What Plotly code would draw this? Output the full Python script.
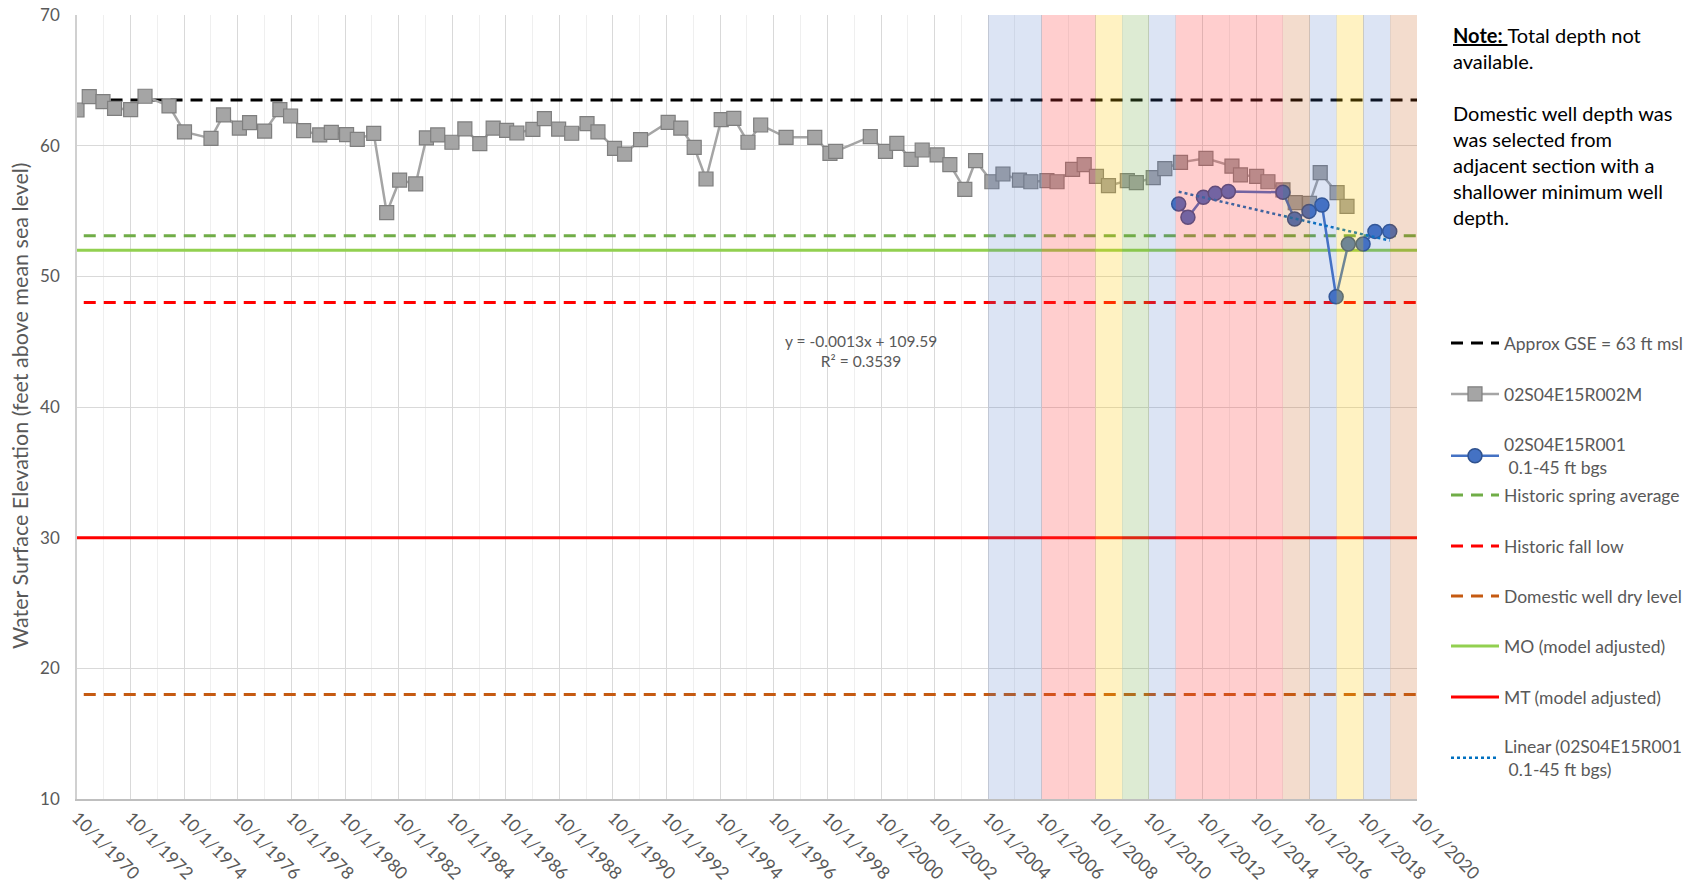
import plotly.graph_objects as go
from datetime import date

# ---------------- data ----------------
R002M_DATES = [
    "1970-10-01", "1971-03-17", "1971-09-20", "1972-02-25", "1972-10-01", "1973-04-15",
    "1974-03-08", "1974-10-05", "1975-10-01", "1976-03-20", "1976-10-22", "1977-03-10",
    "1977-10-01", "1978-04-27", "1978-09-20", "1979-03-17", "1979-10-22", "1980-03-28",
    "1980-10-22", "1981-03-17", "1981-10-27", "1982-04-22", "1982-10-15", "1983-05-22",
    "1983-10-15", "1984-03-17", "1984-09-27", "1985-03-22", "1985-10-12", "1986-04-12",
    "1986-10-12", "1987-03-01", "1987-10-05", "1988-03-10", "1988-09-20", "1989-03-17",
    "1989-10-12", "1990-03-10", "1990-10-22", "1991-03-08", "1991-10-12", "1992-10-22",
    "1993-04-12", "1993-10-12", "1994-03-22", "1994-10-15", "1995-04-05", "1995-10-15",
    "1996-04-05", "1997-03-17", "1998-04-12", "1998-11-05", "1999-01-22", "2000-05-08",
    "2000-12-01", "2001-05-05", "2001-11-15", "2002-04-15", "2002-11-05", "2003-04-27",
    "2003-11-17", "2004-04-12", "2004-11-20", "2005-04-20", "2005-12-01", "2006-05-05",
    "2006-12-10", "2007-04-27", "2007-11-25", "2008-05-01", "2008-10-15", "2009-03-28",
    "2009-12-10", "2010-04-12", "2010-11-28", "2011-05-05", "2011-12-05", "2012-11-15",
    "2013-11-05", "2014-03-01", "2014-10-08", "2015-03-10", "2015-10-01", "2016-03-17",
    "2016-09-27", "2017-02-20", "2017-10-08", "2018-02-20",
]
R002M_ELEV = [
    62.73, 63.75, 63.37, 62.86, 62.76, 63.78,
    63.04, 61.05, 60.56, 62.35, 61.35, 61.76,
    61.12, 62.76, 62.27, 61.15, 60.82, 61.02,
    60.84, 60.48, 60.94, 54.87, 57.37, 57.07,
    60.59, 60.82, 60.26, 61.28, 60.15, 61.35,
    61.17, 60.97, 61.25, 62.07, 61.26, 60.95,
    61.69, 61.06, 59.80, 59.36, 60.46, 61.79,
    61.35, 59.87, 57.45, 61.99, 62.09, 60.26,
    61.58, 60.64, 60.64, 59.41, 59.57, 60.69,
    59.57, 60.18, 58.95, 59.67, 59.29, 58.55,
    56.66, 58.85, 57.24, 57.83, 57.37, 57.24,
    57.32, 57.24, 58.19, 58.55, 57.65, 56.94,
    57.32, 57.17, 57.55, 58.24, 58.72, 59.03,
    58.44, 57.76, 57.65, 57.24, 56.61, 55.64,
    55.59, 57.93, 56.40, 55.36,
]

R001_DATES = [
    "2011-11-10", "2012-03-15", "2012-10-12", "2013-03-22", "2013-09-17", "2015-10-01",
    "2016-03-08", "2016-09-20", "2017-03-15", "2017-09-25", "2018-03-10", "2018-09-27",
    "2019-03-08", "2019-09-25",
]
R001_ELEV = [
    55.54, 54.52, 56.05, 56.35, 56.50, 56.43,
    54.39, 54.97, 55.46, 48.44, 52.47, 52.47,
    53.44, 53.44,
]

# reference levels (ft msl) and the date span each line is drawn over
GSE_LEVEL = 63.5
SPRING_AVG_LEVEL = 53.1
FALL_LOW_LEVEL = 48.0
DOMESTIC_DRY_LEVEL = 18.0
MO_LEVEL = 52.0
MT_LEVEL = 30.0
GSE_SPAN = ["1972-01-01", "2020-10-01"]
HIST_SPAN = ["1971-01-01", "2020-10-01"]
MODEL_SPAN = ["1970-10-01", "2020-10-01"]

# Excel linear trendline of 02S04E15R001 (x = Excel date serial)
TREND_SLOPE = -0.0013
TREND_INTERCEPT = 109.59
TREND_LABEL = ["y = -0.0013x + 109.59", "R² = 0.3539"]

# water-year type shading
WATER_YEARS = list(range(2005, 2021))
WATER_YEAR_TYPES = ["W", "W", "C", "C", "BN", "AN", "W", "C", "C", "C", "C", "D", "W", "BN", "W", "D"]

TICK_YEARS = list(range(1970, 2021, 2))
MINOR_YEARS = list(range(1971, 2021, 2))

NOTE_LINES = ["<b><u>Note: </u></b>Total depth not", "available.", "",
              "Domestic well depth was", "was selected from", "adjacent section with a",
              "shallower minimum well", "depth."]

# ---------------- styling ----------------
FONT = "Lato, 'Open Sans', sans-serif"
GRAY_TXT = "#595959"
BAND_COLORS = {
    "W": "rgba(68,114,196,0.19)",
    "C": "rgba(255,60,60,0.25)",
    "BN": "rgba(255,200,0,0.24)",
    "AN": "rgba(112,173,71,0.24)",
    "D": "rgba(197,90,17,0.21)",
}
DASH = "12px,8px"

W, H = 1699, 890
BODY = 0                          # page body margin is removed by the post script
PL, PR, PT, PB = 77, 1417, 15, 799   # plot area in page pixels
pw, ph = PR - PL, PB - PT


def px_x(xp):
    return (xp - PL) / pw


def px_y(yp):
    return 1 - (yp - PT) / ph


def excel_serial(d):
    y, m, dd = map(int, d.split("-"))
    return (date(y, m, dd) - date(1899, 12, 30)).days


fig = go.Figure()

# legend item centres (page y) for each entry, one legend per entry
LEGEND_Y = {1: 343, 2: 394, 3: 456, 4: 495, 5: 546, 6: 596, 7: 646, 8: 697, 9: 758}


def lg(i):
    return "legend" if i == 1 else f"legend{i}"


def hline(name, level, span, color, dash, width, idx):
    fig.add_trace(go.Scatter(
        x=span, y=[level, level], mode="lines", name=name,
        line=dict(color=color, dash=dash, width=width),
        legend=lg(idx), hoverinfo="skip"))


hline("Approx GSE = 63 ft msl", GSE_LEVEL, GSE_SPAN, "#000000", DASH, 3, 1)
hline("Historic spring average", SPRING_AVG_LEVEL, HIST_SPAN, "#70AD47", DASH, 3, 4)
hline("Historic fall low", FALL_LOW_LEVEL, HIST_SPAN, "#FF0000", DASH, 3, 5)
hline("Domestic well dry level", DOMESTIC_DRY_LEVEL, HIST_SPAN, "#C55A11", DASH, 3, 6)
hline("MO (model adjusted)", MO_LEVEL, MODEL_SPAN, "#92D050", "solid", 3, 7)
hline("MT (model adjusted)", MT_LEVEL, MODEL_SPAN, "#FF0000", "solid", 3, 8)

fig.add_trace(go.Scatter(
    x=R002M_DATES, y=R002M_ELEV, mode="lines+markers", name="02S04E15R002M",
    line=dict(color="#A5A5A5", width=2.5),
    marker=dict(symbol="square", size=14, color="#A5A5A5", line=dict(color="#7F7F7F", width=1.2)),
    legend=lg(2)))

fig.add_trace(go.Scatter(
    x=R001_DATES, y=R001_ELEV, mode="lines+markers", name="02S04E15R001<br> 0.1-45 ft bgs",
    line=dict(color="#4472C4", width=2.5),
    marker=dict(symbol="circle", size=14, color="#4472C4", line=dict(color="#2F528F", width=1.5)),
    legend=lg(3)))

trend_x = [R001_DATES[0], R001_DATES[-1]]
trend_y = [TREND_SLOPE * excel_serial(d) + TREND_INTERCEPT for d in trend_x]
fig.add_trace(go.Scatter(
    x=trend_x, y=trend_y, mode="lines", name="Linear (02S04E15R001<br> 0.1-45 ft bgs)",
    line=dict(color="#0070C0", dash="dot", width=2.5),
    legend=lg(9), hoverinfo="skip"))

# water-year shading bands (drawn over the data like the original)
for wy, t in zip(WATER_YEARS, WATER_YEAR_TYPES):
    fig.add_shape(type="rect", xref="x", yref="paper",
                  x0=f"{wy-1}-10-01", x1=f"{wy}-10-01", y0=0, y1=1,
                  fillcolor=BAND_COLORS[t], line=dict(width=0), layer="above")

fig.add_annotation(text="<br>".join(TREND_LABEL), xref="paper", yref="paper",
                   x=px_x(861), y=px_y(351), showarrow=False, align="center",
                   font=dict(family=FONT, size=15.5, color=GRAY_TXT))

fig.add_annotation(text="<br>".join(NOTE_LINES), xref="paper", yref="paper",
                   x=px_x(1451), y=px_y(21), xanchor="left", yanchor="top",
                   showarrow=False, align="left",
                   font=dict(family=FONT, size=20, color="#000000"))

fig.add_annotation(text="Water Surface Elevation (feet above mean sea level)",
                   xref="paper", yref="paper", x=px_x(20), y=px_y(406), textangle=-90,
                   xanchor="center", yanchor="middle",
                   showarrow=False, font=dict(family=FONT, size=21.5, color=GRAY_TXT))

legends = {}
for i, yc in LEGEND_Y.items():
    legends[lg(i)] = dict(x=px_x(1446), y=px_y(yc), xanchor="left", yanchor="middle",
                          font=dict(family=FONT, size=17.5, color=GRAY_TXT),
                          itemwidth=48, bgcolor="rgba(0,0,0,0)", borderwidth=0)

fig.update_layout(
    template="none",
    width=W, height=H,
    margin=dict(l=PL - BODY, r=W - (PR - BODY), t=PT - BODY, b=H - (PB - BODY), autoexpand=False),
    paper_bgcolor="white", plot_bgcolor="white",
    font=dict(family=FONT, color=GRAY_TXT),
    showlegend=True,
    **legends,
    xaxis=dict(
        type="date", range=["1970-10-01", "2020-10-01"],
        tickvals=[f"{y}-10-01" for y in TICK_YEARS],
        ticktext=[f"10/1/{y}" for y in TICK_YEARS],
        tickangle=45, tickfont=dict(family=FONT, size=17.5, color=GRAY_TXT),
        showgrid=True, gridcolor="#D9D9D9", gridwidth=1,
        minor=dict(tickvals=[f"{y}-10-01" for y in MINOR_YEARS], showgrid=True,
                   gridcolor="#EFEFEF", gridwidth=1),
        showline=True, linecolor="#BFBFBF", linewidth=1.5,
        ticks="", zeroline=False, automargin=False,
    ),
    yaxis=dict(
        range=[10, 70], dtick=10, tick0=10,
        tickfont=dict(family=FONT, size=17, color=GRAY_TXT),
        showgrid=True, gridcolor="#D9D9D9", gridwidth=1,
        showline=True, linecolor="#D0D0D0", linewidth=1.5,
        ticks="", zeroline=False, automargin=False, ticklabelstandoff=12,
        ticklabeloverflow="allow",
    ),
)

fig.write_html("out.html", config={"displayModeBar": False},
               post_script="document.body.style.margin='0px';")
